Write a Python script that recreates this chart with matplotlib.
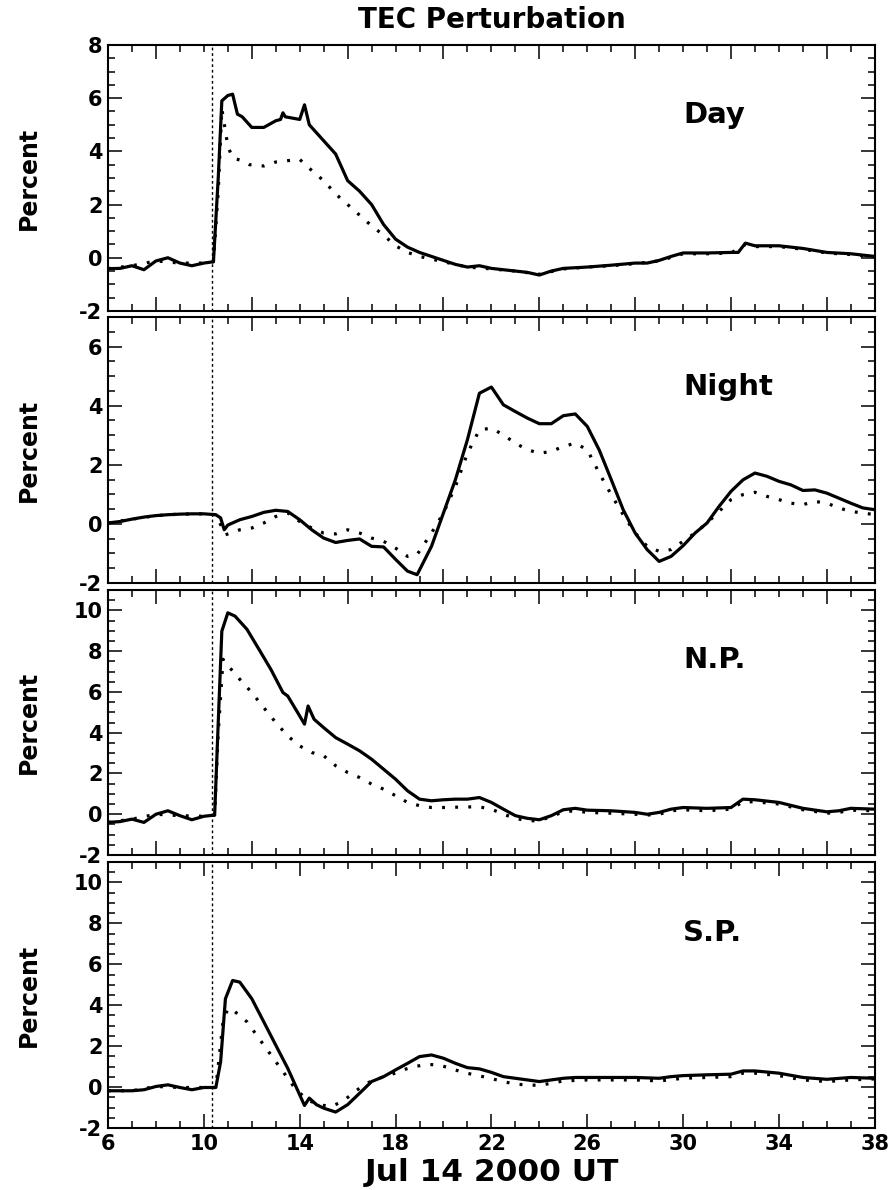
import numpy as np
import matplotlib.pyplot as plt
from matplotlib.ticker import MultipleLocator

plt.rcParams['font.family'] = 'DejaVu Sans'
plt.rcParams['font.weight'] = 'bold'
plt.rcParams['axes.unicode_minus'] = False

# hours (UT, Jul 14 2000) and TEC perturbation (percent)
day_t = [6, 6.5, 7, 7.5, 8, 8.5, 9, 9.5, 10, 10.4, 10.6, 10.75, 11.0, 11.2, 11.4, 11.6, 12, 12.5, 13,
         13.2, 13.3, 13.4, 14, 14.2, 14.4, 15, 15.5, 16, 16.5, 17, 17.5, 18, 18.5, 19, 19.5, 20, 20.5,
         21, 21.5, 22, 22.5, 23, 23.5, 24, 24.5, 25, 26, 27, 28, 28.5, 29, 29.5, 30, 31, 32, 32.3,
         32.6, 33, 34, 35, 36, 37, 38]
day_solid = [-0.41, -0.4, -0.3, -0.45, -0.12, 0.0, -0.2, -0.3, -0.2, -0.15, 3.0, 5.9, 6.1, 6.15, 5.4,
             5.3, 4.9, 4.9, 5.15, 5.2, 5.45, 5.3, 5.2, 5.75, 5.0, 4.4, 3.9, 2.9, 2.5, 2.0, 1.25, 0.7,
             0.4, 0.2, 0.05, -0.1, -0.25, -0.35, -0.3, -0.4, -0.45, -0.5, -0.55, -0.65, -0.5, -0.4,
             -0.35, -0.28, -0.2, -0.2, -0.1, 0.05, 0.18, 0.18, 0.2, 0.2, 0.55, 0.45, 0.45, 0.35, 0.2,
             0.15, 0.05]
day_dot_t = [6, 7, 8, 9, 10, 10.4, 10.6, 10.75, 11.0, 11.2, 11.6, 11.9, 12.5, 13.0, 13.5, 14.0, 14.35,
             14.75, 15.1, 15.5, 16, 16.5, 17, 17.5, 18, 18.5, 19, 20, 21, 22, 23, 24, 25, 26, 27, 28,
             29, 30, 31, 32, 32.6, 33, 34, 35, 36, 37, 38]
day_dotted = [-0.41, -0.3, -0.12, -0.2, -0.2, -0.15, 2.5, 5.6, 4.2, 3.75, 3.65, 3.5, 3.45, 3.6, 3.65,
              3.7, 3.4, 3.1, 2.8, 2.4, 2.0, 1.6, 1.2, 0.85, 0.45, 0.2, 0.05, -0.15, -0.35, -0.42,
              -0.5, -0.62, -0.42, -0.35, -0.3, -0.22, -0.12, 0.15, 0.15, 0.18, 0.5, 0.42, 0.42,
              0.32, 0.18, 0.12, 0.03]

night_t = [6, 6.5, 7, 7.5, 8, 8.5, 9, 9.5, 10, 10.5, 10.7, 10.85, 11.0, 11.5, 12, 12.5, 13, 13.5, 14,
           14.5, 15, 15.5, 16, 16.5, 17, 17.5, 18, 18.5, 18.9, 19.5, 20, 20.5, 21, 21.5, 22, 22.5, 23,
           23.5, 24, 24.5, 25, 25.5, 26, 26.5, 27, 27.5, 28, 28.5, 29, 29.5, 30, 30.5, 31, 31.5, 32,
           32.5, 33, 33.5, 34, 34.5, 35, 35.5, 36, 36.5, 37, 37.5, 38]
night_solid = [0.03, 0.08, 0.16, 0.23, 0.28, 0.31, 0.33, 0.34, 0.34, 0.31, 0.2, -0.2, -0.04, 0.14,
               0.25, 0.39, 0.46, 0.42, 0.14, -0.2, -0.48, -0.63, -0.56, -0.51, -0.76, -0.78, -1.2,
               -1.6, -1.72, -0.76, 0.37, 1.5, 2.85, 4.42, 4.63, 4.03, 3.8, 3.58, 3.39, 3.39, 3.66,
               3.72, 3.3, 2.5, 1.5, 0.48, -0.31, -0.87, -1.27, -1.1, -0.74, -0.31, 0.03, 0.59, 1.1,
               1.49, 1.72, 1.61, 1.44, 1.32, 1.13, 1.15, 1.04, 0.87, 0.7, 0.54, 0.48]
night_dot_t = [6, 7, 8, 9, 10, 10.5, 10.9, 11.5, 12, 12.5, 13, 13.5, 14, 14.5, 15, 15.5, 16, 16.5, 17,
               17.5, 18, 18.5, 18.9, 19.5, 20, 20.5, 21, 21.5, 22, 22.5, 23, 23.5, 24, 24.5, 25,
               25.5, 26, 26.5, 27, 27.5, 28, 28.5, 29, 29.5, 30, 30.5, 31, 31.5, 32, 32.5, 33, 33.5,
               34, 34.5, 35, 35.5, 36, 36.5, 37, 37.5, 38]
night_dotted = [0.03, 0.16, 0.28, 0.33, 0.34, 0.31, -0.37, -0.2, -0.14, 0.03, 0.25, 0.37, 0.08,
                -0.14, -0.31, -0.34, -0.2, -0.31, -0.48, -0.59, -0.82, -1.1, -1.04, -0.31, 0.37,
                1.27, 2.39, 3.18, 3.24, 3.01, 2.73, 2.51, 2.39, 2.45, 2.62, 2.73, 2.51, 1.72, 0.99,
                0.31, -0.31, -0.76, -0.93, -0.87, -0.59, -0.31, 0.03, 0.42, 0.82, 0.99, 1.07, 0.93,
                0.82, 0.7, 0.65, 0.76, 0.7, 0.54, 0.42, 0.37, 0.31]

np_t = [6, 6.5, 7, 7.5, 8, 8.5, 9, 9.5, 10, 10.45, 10.6, 10.75, 11.0, 11.3, 11.8, 12.3, 12.8, 13.3,
        13.5, 14, 14.2, 14.35, 14.6, 15, 15.5, 16, 16.5, 17, 17.5, 18, 18.5, 19, 19.5, 20, 20.5, 21,
        21.5, 22, 22.5, 23, 23.5, 24, 24.5, 25, 25.5, 26, 27, 28, 28.5, 29, 29.5, 30, 31, 32, 32.5,
        33, 34, 35, 36, 36.5, 37, 38]
np_solid = [-0.4, -0.36, -0.24, -0.4, 0.0, 0.17, -0.07, -0.27, -0.1, -0.04, 4.5, 8.98, 9.88, 9.72,
            9.07, 8.09, 7.1, 5.97, 5.8, 4.82, 4.42, 5.31, 4.66, 4.25, 3.76, 3.44, 3.11, 2.7, 2.21,
            1.72, 1.15, 0.74, 0.66, 0.71, 0.74, 0.74, 0.82, 0.58, 0.25, -0.07, -0.2, -0.27, -0.07,
            0.22, 0.29, 0.2, 0.17, 0.09, 0.0, 0.09, 0.25, 0.33, 0.29, 0.33, 0.74, 0.71, 0.58, 0.29,
            0.12, 0.17, 0.29, 0.25]
np_dot_t = [6, 7, 8, 9, 10, 10.45, 10.6, 10.8, 11.0, 11.5, 12, 12.5, 13, 13.5, 14, 14.5, 15, 15.5,
            16, 16.5, 17, 17.5, 18, 18.5, 19, 19.5, 20, 21, 21.5, 22, 22.5, 23, 23.5, 24, 24.5, 25,
            25.5, 26, 27, 28, 28.5, 29, 29.5, 30, 31, 32, 32.5, 33, 34, 35, 36, 36.5, 37, 38]
np_dotted = [-0.4, -0.24, 0.0, -0.07, -0.1, -0.04, 4.0, 7.6, 7.3, 6.62, 5.97, 5.23, 4.5, 3.84, 3.35,
             3.03, 2.87, 2.38, 2.05, 1.8, 1.48, 1.23, 0.91, 0.58, 0.42, 0.33, 0.33, 0.36, 0.36, 0.25,
             0.0, -0.2, -0.32, -0.32, -0.11, 0.12, 0.17, 0.09, 0.05, 0.0, -0.04, 0.0, 0.17, 0.22,
             0.17, 0.25, 0.61, 0.61, 0.5, 0.22, 0.05, 0.09, 0.2, 0.17]

sp_t = [6, 7, 7.5, 8, 8.5, 9, 9.5, 10, 10.5, 10.7, 10.9, 11.2, 11.5, 12, 12.5, 13, 13.5, 14, 14.2,
        14.4, 14.7, 15, 15.5, 16, 16.5, 17, 17.5, 18, 18.5, 19, 19.5, 20, 20.5, 21, 21.5, 22, 22.5,
        23, 24, 24.5, 25, 25.5, 26, 27, 28, 29, 29.5, 30, 31, 32, 32.5, 33, 34, 35, 36, 37, 38]
sp_solid = [-0.18, -0.18, -0.13, 0.03, 0.11, -0.02, -0.13, -0.02, -0.02, 1.24, 4.32, 5.21, 5.13,
            4.32, 3.19, 2.05, 0.92, -0.38, -0.9, -0.54, -0.86, -1.03, -1.22, -0.86, -0.3, 0.27,
            0.51, 0.84, 1.16, 1.49, 1.57, 1.41, 1.16, 0.95, 0.89, 0.72, 0.51, 0.43, 0.27, 0.35,
            0.43, 0.47, 0.47, 0.47, 0.47, 0.43, 0.51, 0.56, 0.6, 0.63, 0.79, 0.79, 0.68, 0.47,
            0.38, 0.47, 0.43]
sp_dot_t = [6, 7, 8, 9, 10, 10.5, 10.8, 11.0, 11.3, 11.8, 12.3, 12.8, 13.3, 13.8, 14.3, 14.8, 15.3,
            15.8, 16.3, 16.8, 17.3, 17.8, 18.3, 18.8, 19.3, 19.8, 20.3, 20.8, 21.3, 21.8, 22.5, 23,
            24, 24.5, 25, 26, 27, 28, 29, 30, 31, 32, 32.5, 33, 34, 35, 36, 37, 38]
sp_dotted = [-0.18, -0.18, 0.03, -0.02, -0.02, -0.02, 3.19, 3.84, 3.68, 3.19, 2.38, 1.57, 0.76,
             -0.05, -0.62, -0.86, -0.95, -0.7, -0.22, 0.19, 0.43, 0.6, 0.84, 1.0, 1.11, 1.08, 0.92,
             0.72, 0.6, 0.47, 0.27, 0.14, 0.08, 0.19, 0.3, 0.35, 0.35, 0.35, 0.3, 0.43, 0.47, 0.51,
             0.68, 0.68, 0.56, 0.35, 0.27, 0.35, 0.4]

onset = 10.33
panels = [
    ('Day', day_t, day_solid, day_dot_t, day_dotted, (-2, 8)),
    ('Night', night_t, night_solid, night_dot_t, night_dotted, (-2, 7)),
    ('N.P.', np_t, np_solid, np_dot_t, np_dotted, (-2, 11)),
    ('S.P.', sp_t, sp_solid, sp_dot_t, sp_dotted, (-2, 11)),
]

fig = plt.figure(figsize=(8.89, 11.9), dpi=100)
# panel boxes (left, bottom, width, height) in figure fraction
rects = [(0.1215, 0.7387, 0.8625, 0.2235),
         (0.1215, 0.5101, 0.8625, 0.2235),
         (0.1215, 0.2815, 0.8625, 0.2227),
         (0.1215, 0.0521, 0.8625, 0.2235)]

axes = []
for rect, (name, t1, y1, t2, y2, ylim) in zip(rects, panels):
    ax = fig.add_axes(rect)
    ax.plot(t2, y2, color='black', lw=2.3, linestyle=(0, (0.9, 3.2)), dash_capstyle='butt')
    ax.plot(t1, y1, color='black', lw=2.3, solid_joinstyle='round')
    ax.axvline(onset, color='black', lw=1.0, linestyle=(0, (2, 2)))
    ax.set_xlim(6, 38)
    ax.set_ylim(*ylim)
    ax.xaxis.set_major_locator(MultipleLocator(4))
    ax.xaxis.set_minor_locator(MultipleLocator(1))
    ax.yaxis.set_major_locator(MultipleLocator(2))
    ax.yaxis.set_minor_locator(MultipleLocator(0.5))
    ax.tick_params(which='both', direction='in', top=True, right=True, width=1.1)
    ax.tick_params(which='major', length=10, labelsize=15, pad=4)
    ax.tick_params(which='minor', length=5)
    for s in ax.spines.values():
        s.set_linewidth(1.5)
    ax.set_ylabel('Percent', fontsize=17, fontweight='bold')
    ax.yaxis.set_label_coords(-0.088, 0.5)
    ax.text(0.75, 0.735, name, transform=ax.transAxes, fontsize=21, fontweight='bold',
            ha='left', va='center')
    axes.append(ax)

for ax in axes[:-1]:
    ax.tick_params(labelbottom=False)
axes[-1].set_xticks(np.arange(6, 39, 4))

fig.text(0.553, 0.983, 'TEC Perturbation', ha='center', va='center', fontsize=20, fontweight='bold')
fig.text(0.553, 0.015, 'Jul 14 2000 UT', ha='center', va='center', fontsize=22.5, fontweight='bold')

fig.savefig('out.png', dpi=100)
